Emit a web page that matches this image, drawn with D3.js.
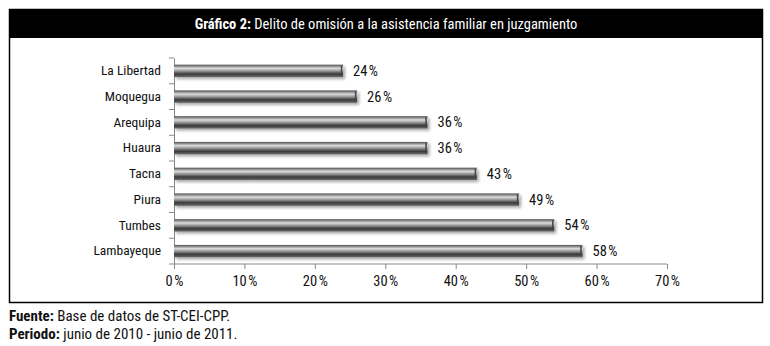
<!DOCTYPE html>
<html><head><meta charset="utf-8">
<script src="https://cdn.jsdelivr.net/npm/d3@7"></script>
<style>
body{margin:0;background:#fff;}
text{font-family:"Liberation Sans Narrow","Arial Narrow","Roboto Condensed","Liberation Sans",sans-serif;}
</style></head>
<body><svg id="c" width="770" height="346"></svg>
<script>
const categories = ["La Libertad","Moquegua","Arequipa","Huaura","Tacna","Piura","Tumbes","Lambayeque"];
const values = [24,26,36,36,43,49,54,58];
const xTicks = [0,10,20,30,40,50,60,70];
const title = ["Gráfico 2:"," Delito de omisión a la asistencia familiar en juzgamiento"];
const notes = [["Fuente:"," Base de datos de ST-CEI-CPP."],["Periodo:"," junio de 2010 - junio de 2011."]];

const svg = d3.select("#c");
const defs = svg.append("defs");
const g1 = defs.append("linearGradient").attr("id","bar").attr("x1",0).attr("x2",0).attr("y1",0).attr("y2",1);
[[0,"#4a4a4a"],[0.12,"#8a8a8a"],[0.3,"#dcdcdc"],[0.5,"#9a9a9a"],[0.75,"#3a3a3a"],[1,"#6a6a6a"]]
 .forEach(([o,c])=>g1.append("stop").attr("offset",o).attr("stop-color",c));
const f = defs.append("filter").attr("id","sh").attr("x","-5%").attr("y","-50%").attr("width","115%").attr("height","250%");
f.append("feGaussianBlur").attr("in","SourceAlpha").attr("stdDeviation",1.6).attr("result","b");
f.append("feOffset").attr("in","b").attr("dx",1.5).attr("dy",2).attr("result","o");
f.append("feComponentTransfer").attr("in","o").attr("result","o2").append("feFuncA").attr("type","linear").attr("slope",0.35);
const m = f.append("feMerge"); m.append("feMergeNode").attr("in","o2"); m.append("feMergeNode").attr("in","SourceGraphic");

// frame
svg.append("rect").attr("x",9.5).attr("y",9.5).attr("width",753).attr("height",293).attr("fill","none").attr("stroke","#000").attr("stroke-width",1.5);
svg.append("rect").attr("x",9).attr("y",9).attr("width",754).attr("height",29).attr("fill","#000");
const tt = svg.append("text").attr("x",386).attr("y",29).attr("text-anchor","middle").attr("fill","#fff").style("font-size","14.5px");
tt.append("tspan").attr("font-weight","bold").text(title[0]);
tt.append("tspan").text(title[1]);

const x = d3.scaleLinear().domain([0,70]).range([174,667]);
const y = d3.scaleBand().domain(categories).range([58,264]).paddingInner(0.52).paddingOuter(0.26);

// y axis
const ya = svg.append("g").attr("transform","translate(174,0)").call(d3.axisLeft(y).tickSize(0).tickPadding(13));
ya.select(".domain").attr("stroke","#888");
ya.selectAll("text").style("font-size","13.5px").attr("fill","#111");
const bounds = d3.range(categories.length+1).map(i=>58+i*(206/categories.length));
svg.append("g").selectAll("line").data(bounds).join("line")
 .attr("x1",169).attr("x2",174).attr("y1",d=>d).attr("y2",d=>d).attr("stroke","#888");

// x axis
const xa = svg.append("g").attr("transform","translate(0,264)")
 .call(d3.axisBottom(x).tickValues(xTicks).tickFormat(d=>d+"%").tickSize(5).tickPadding(7));
xa.select(".domain").attr("stroke","#888").attr("d","M174,0H667");
xa.selectAll(".tick line").attr("stroke","#888");
xa.selectAll(".tick text").each(function(d){
  const t = d3.select(this); t.text(null).style("font-size","14.5px").attr("fill","#111");
  t.append("tspan").text(d); t.append("tspan").attr("dx",1.5).text("%");
});

// bars
const bars = svg.append("g");
bars.selectAll("rect").data(values).join("rect")
 .attr("x",x(0)).attr("y",(d,i)=>y(categories[i])).attr("width",d=>x(d)-x(0)).attr("height",y.bandwidth())
 .attr("fill","url(#bar)").attr("filter","url(#sh)");
bars.selectAll("line.cap").data(values).join("line").attr("class","cap")
 .attr("x1",d=>x(d)-1.5).attr("x2",d=>x(d)-1.5).attr("y1",(d,i)=>y(categories[i])+1).attr("y2",(d,i)=>y(categories[i])+y.bandwidth()-1)
 .attr("stroke","#444").attr("stroke-width",1.5);

const vl = svg.append("g").selectAll("text").data(values).join("text")
 .attr("x",d=>x(d)+10).attr("y",(d,i)=>y(categories[i])+y.bandwidth()/2+5)
 .style("font-size","14.5px").attr("fill","#111");
vl.append("tspan").text(d=>d);
vl.append("tspan").attr("dx",1.5).text("%");

// notes
notes.forEach((n,i)=>{
 const t = svg.append("text").attr("x",9).attr("y",321+i*18).style("font-size","15px").attr("fill","#111");
 t.append("tspan").attr("font-weight","bold").text(n[0]);
 t.append("tspan").text(n[1]);
});
</script></body></html>
